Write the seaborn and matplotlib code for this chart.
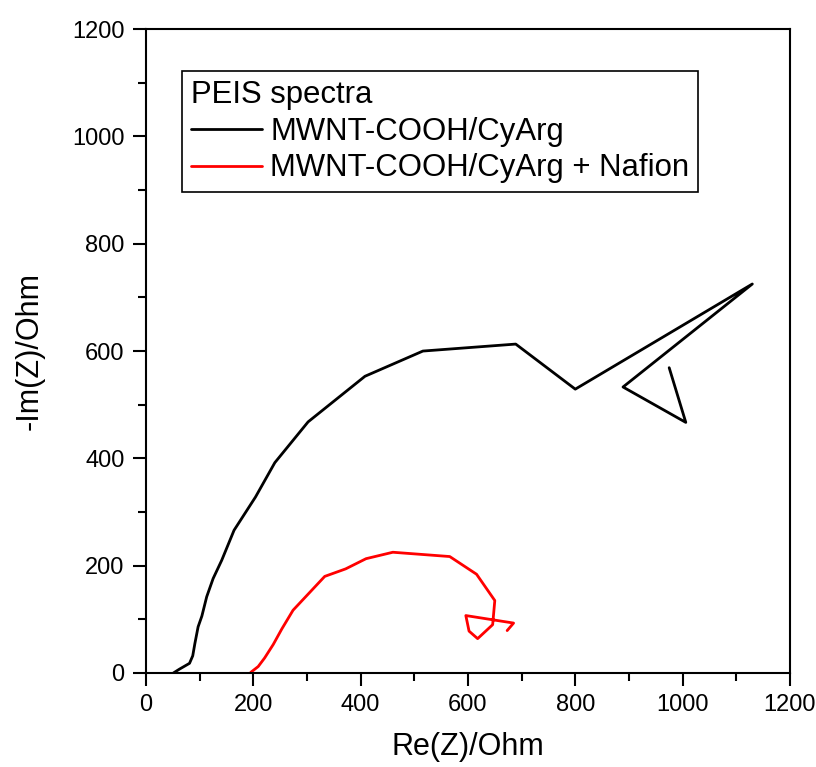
import numpy as np
import pandas as pd
import matplotlib
matplotlib.use("Agg")
import matplotlib.pyplot as plt
import seaborn as sns
from matplotlib.ticker import MultipleLocator

# values
black_label = "MWNT-COOH/CyArg"
black_re = [51, 62, 81, 87, 91, 97, 104, 113, 125, 141, 164, 204, 240, 302, 408, 516, 689, 800, 1130, 889, 1006, 975]
black_im = [0, 7, 18, 32, 55, 86, 106, 142, 176, 210, 266, 328, 392, 468, 553, 600, 613, 529, 725, 533, 467, 569]

red_label = "MWNT-COOH/CyArg + Nafion"
red_re = [195, 209, 221, 237, 253, 274, 333, 372, 410, 460, 566, 616, 650, 646, 618, 602, 596, 685, 673]
red_im = [1, 12, 28, 53, 82, 117, 180, 194, 213, 225, 217, 184, 135, 90, 64, 78, 107, 93, 79]

df = pd.concat([
    pd.DataFrame({"re": black_re, "im": black_im, "series": black_label}),
    pd.DataFrame({"re": red_re, "im": red_im, "series": red_label}),
], ignore_index=True)

sns.set_style("ticks", {"text.color": "black", "axes.labelcolor": "black",
                        "xtick.color": "black", "ytick.color": "black"})
plt.rcParams['font.family'] = ['Liberation Sans', 'DejaVu Sans']

fig = plt.figure(figsize=(8.16, 7.67), dpi=100)
ax = fig.add_axes([0.179, 0.1226, 0.789, 0.8394])

sns.lineplot(data=df, x="re", y="im", hue="series", estimator=None,
             sort=False, palette={black_label: "black", red_label: "#ff0000"},
             lw=2.0, ax=ax)

ax.set_xlim(0, 1200)
ax.set_ylim(0, 1200)
ax.xaxis.set_major_locator(MultipleLocator(200))
ax.xaxis.set_minor_locator(MultipleLocator(100))
ax.yaxis.set_major_locator(MultipleLocator(200))
ax.yaxis.set_minor_locator(MultipleLocator(100))
ax.tick_params(which="major", direction="out", length=9.5, width=1.5, labelsize=17,
               colors="black", pad=6)
ax.tick_params(which="minor", direction="out", length=6, width=1.5)
for s in ax.spines.values():
    s.set_linewidth(1.5)
    s.set_color("black")

ax.set_xlabel("Re(Z)/Ohm", fontsize=22, labelpad=11, color="black")
ax.set_ylabel("-Im(Z)/Ohm", fontsize=22, labelpad=20, color="black")

handles, labels = ax.get_legend_handles_labels()
for h in handles:
    h.set_linewidth(2.0)
leg = ax.legend(handles, labels, title="PEIS spectra", loc="upper left",
                bbox_to_anchor=(0.056, 0.935), fontsize=22.4, title_fontsize=22.4,
                frameon=True, fancybox=False, edgecolor="black", handlelength=2.3,
                borderpad=0.28, labelspacing=0.22, handletextpad=0.25, borderaxespad=0,
                framealpha=1)
leg.get_frame().set_linewidth(1.2)
leg._legend_box.align = "left"
for t in leg.get_texts():
    t.set_color("black")
leg.get_title().set_color("black")

fig.savefig("out.png", dpi=100)
